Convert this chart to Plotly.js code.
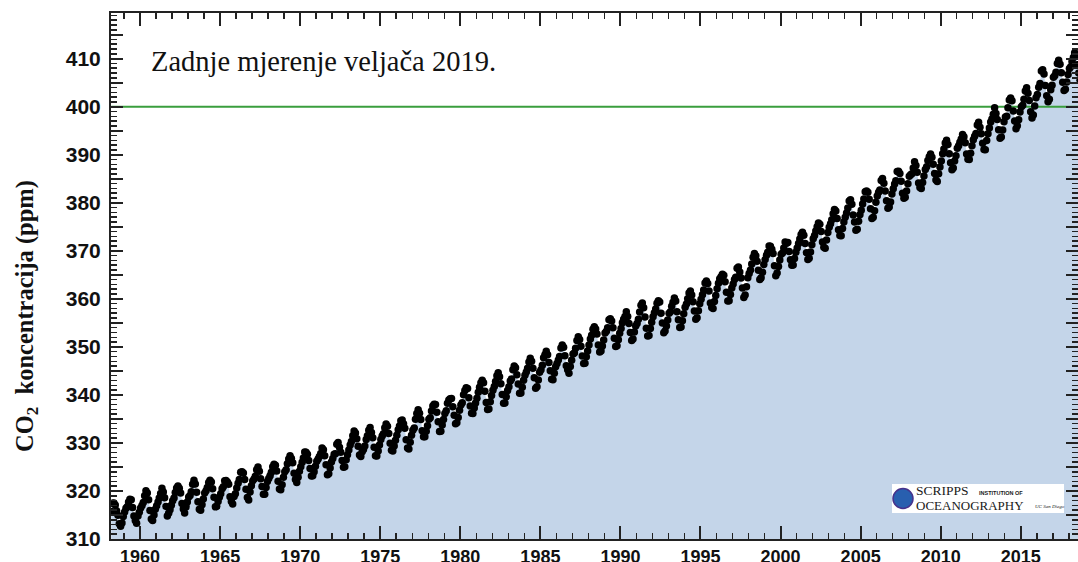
<!DOCTYPE html>
<html>
<head>
<meta charset="utf-8">
<script src="https://cdn.plot.ly/plotly-3.0.1.min.js"></script>
<style>html,body{margin:0;padding:0;background:#fff;}#chart{width:1078px;height:562px;}</style>
</head>
<body>
<div id="chart"></div>
<script>
// Monthly mean CO2 at Mauna Loa (ppm); series starts March 1958
const startYear = 1958;
const startMonth = 3;
const co2_1958_59 = [315.71,317.45,317.50,317.10,315.86,314.93,313.20,312.66,313.33,314.67,
  315.62,316.38,316.71,317.72,318.29,318.15,316.54,314.80,313.84,313.26,314.80,315.58];
const co2_1960s = [
  316.43,316.97,317.58,319.02,320.03,319.59,318.18,315.91,314.16,313.83,315.00,316.19,
  316.93,317.70,318.54,319.48,320.58,319.77,318.57,316.79,314.80,315.38,316.10,317.01,
  317.94,318.56,319.68,320.63,321.01,320.55,319.58,317.40,316.26,315.42,316.69,317.69,
  318.74,319.08,319.86,321.39,322.25,321.47,319.74,317.77,316.21,315.99,317.12,318.31,
  319.57,320.07,320.73,321.77,322.25,321.89,320.44,318.70,316.70,316.79,317.79,318.71,
  319.44,320.44,320.89,322.13,322.16,321.87,321.39,318.80,317.81,317.30,318.87,319.42,
  320.62,321.59,322.39,323.87,324.01,323.75,322.39,320.37,318.64,318.10,319.79,321.08,
  322.07,322.50,323.04,324.42,325.00,324.09,322.55,320.92,319.31,319.31,320.72,321.96,
  322.57,323.15,323.89,325.02,325.57,325.36,324.14,322.03,320.41,320.25,321.31,322.84,
  324.00,324.42,325.64,326.66,327.34,326.76,325.88,323.67,322.38,321.78,322.85,324.12];
const co2_1970s = [
  325.03,325.99,326.87,328.13,328.07,327.66,326.35,324.69,323.10,323.16,323.98,325.13,
  326.17,326.68,327.18,327.78,328.92,328.57,327.34,325.46,323.36,323.57,324.80,326.01,
  326.77,327.63,327.75,329.72,330.07,329.09,328.05,326.32,324.93,325.06,326.50,327.55,
  328.54,329.56,330.30,331.50,332.48,332.07,330.87,329.31,327.51,327.18,328.16,328.64,
  329.35,330.71,331.48,332.65,333.20,332.16,331.07,329.12,327.32,327.28,328.30,329.58,
  330.73,331.46,331.90,333.17,333.94,333.45,331.97,329.95,328.50,328.34,329.37,330.58,
  331.59,332.75,333.52,334.64,334.77,334.00,333.06,330.68,328.95,328.75,330.15,331.62,
  332.66,333.13,334.95,336.13,336.93,336.17,334.88,332.56,331.29,331.27,332.41,333.60,
  334.95,335.25,336.66,337.69,338.03,338.01,336.41,334.41,332.37,332.41,333.75,334.90,
  336.14,336.69,338.27,338.96,339.21,339.26,337.54,335.75,333.98,334.19,335.31,336.81];
const co2_1980s = [
  337.90,338.34,340.01,340.93,341.48,341.33,339.40,337.70,336.19,336.15,337.27,338.32,
  339.29,340.55,341.61,342.53,343.03,342.54,340.78,338.44,336.95,337.08,338.58,339.88,
  340.96,341.73,342.81,343.97,344.63,343.79,342.32,340.09,338.28,338.29,339.60,340.90,
  341.68,342.90,343.33,345.25,346.03,345.63,344.19,342.27,340.35,340.38,341.59,343.05,
  344.10,344.79,345.52,346.84,347.63,346.98,345.53,343.55,341.40,341.67,343.10,344.70,
  345.21,346.16,347.74,348.34,349.06,348.38,346.72,345.02,343.27,343.13,344.49,345.88,
  346.56,347.28,348.01,349.77,350.38,349.93,348.16,346.08,345.22,344.51,345.93,347.22,
  348.52,348.73,349.73,351.31,352.09,351.53,350.11,348.08,346.52,346.59,347.96,349.16,
  350.39,351.64,352.40,353.69,354.21,353.72,352.69,350.40,348.92,349.13,350.20,351.41,
  352.91,353.27,353.96,355.64,355.86,355.37,353.99,351.81,350.05,350.25,351.49,352.85];
const co2_1990s = [
  353.80,355.04,355.73,356.32,357.32,356.34,354.84,353.01,351.31,351.62,353.07,354.33,
  354.84,355.73,357.23,358.66,359.13,358.13,356.19,353.85,352.25,352.35,353.81,355.12,
  356.25,357.11,357.86,359.09,359.59,359.33,357.01,354.94,352.96,353.32,354.32,355.57,
  357.00,357.31,358.47,359.27,360.19,359.52,357.33,355.64,354.03,354.12,355.41,356.91,
  358.24,358.92,359.99,361.23,361.65,360.81,359.38,357.46,355.73,356.08,357.53,358.98,
  359.92,360.86,361.83,363.30,363.69,363.19,361.64,359.12,358.17,357.99,359.45,360.68,
  362.07,363.24,364.17,364.57,365.13,364.92,363.55,361.38,359.54,359.58,360.89,362.24,
  363.09,364.03,364.51,366.35,366.64,365.59,364.31,362.25,360.29,360.82,362.49,364.38,
  365.26,365.98,367.24,368.66,369.42,368.99,367.82,365.95,364.02,364.40,365.52,367.13,
  368.18,369.07,369.68,370.99,370.96,370.30,369.45,366.90,364.81,365.37,366.72,368.10];
const co2_2000s = [
  369.29,369.54,370.60,371.82,371.58,371.70,369.86,368.13,367.00,367.03,368.37,369.67,
  370.59,371.51,372.43,373.37,373.85,373.22,371.50,369.61,368.18,368.45,369.76,371.24,
  372.53,373.20,374.12,375.02,375.76,375.52,374.01,371.85,370.75,370.55,372.25,373.79,
  374.88,375.64,376.45,377.73,378.60,378.28,376.70,374.38,373.17,373.15,374.66,375.99,
  377.00,377.87,378.88,380.35,380.62,379.69,377.47,376.01,374.25,374.46,376.16,377.51,
  378.46,379.73,380.77,382.29,382.45,382.21,380.74,378.74,376.70,377.00,378.35,380.11,
  381.38,382.19,382.67,384.61,385.03,384.05,382.46,380.41,378.85,379.13,380.15,381.82,
  382.89,383.90,384.58,386.50,386.56,386.10,384.50,381.99,380.96,381.12,382.45,383.95,
  385.52,385.82,386.03,387.21,388.54,387.76,386.36,384.09,383.18,382.99,384.19,385.56,
  386.94,387.48,388.82,389.55,390.14,389.48,388.03,386.11,384.74,384.43,386.02,387.42];
const co2_2010s = [
  388.71,390.20,391.17,392.46,393.00,392.15,390.20,388.35,386.85,387.24,388.67,389.79,
  391.33,391.86,392.60,393.25,394.19,393.74,392.51,390.13,389.08,389.00,390.28,391.86,
  393.12,393.86,394.40,396.18,396.74,395.71,394.36,392.39,391.11,391.05,392.98,394.34,
  395.55,396.80,397.43,398.41,399.78,398.60,397.32,395.20,393.45,393.70,395.16,396.84,
  397.85,398.01,399.77,401.38,401.78,401.25,399.10,397.03,395.38,396.03,397.28,398.91,
  399.98,400.28,401.54,403.28,403.96,402.80,401.31,398.93,397.63,398.29,400.16,401.85,
  402.52,404.04,404.83,407.42,407.70,406.81,404.39,402.25,401.03,401.57,403.53,404.48,
  406.13,406.42,407.18,409.00,409.65,408.84,407.07,405.07,403.38,403.64,405.14,406.69,
  407.96,408.32,409.41,410.24,411.24,410.79,408.71,406.99,405.51,405.95,408.02,409.07];
const co2_2019 = [410.83,411.75];

const refLevel = 400;
const yTickVals = [310,315,320,325,330,335,340,345,350,355,360,365,370,375,380,385,390,395,400,405,410,415];
const yTickText = ['310',' ','320',' ','330',' ','340',' ','350',' ','360',' ','370',' ','380',' ','390',' ','400',' ','410',' '];

const noteText = 'Zadnje mjerenje veljača 2019.';
const yTitleText = 'CO<sub>2</sub>&nbsp; koncentracija (ppm)';

// ---- build
const co2 = [].concat(co2_1958_59, co2_1960s, co2_1970s, co2_1980s, co2_1990s, co2_2000s, co2_2010s, co2_2019);
const dates = co2.map((v, i) => {
  const m = startMonth - 1 + i;
  const y = startYear + Math.floor(m / 12);
  const mm = (m % 12) + 1;
  return y + '-' + (mm < 10 ? '0' + mm : mm) + '-15';
});

const PL = 111, PT = 13, PW = 967, PH = 526;
const fx = px => (px - PL) / PW;
const fy = py => (PT + PH - py) / PH;

const serif = 'Liberation Serif, Times New Roman, serif';
const sans = 'Liberation Sans, Arial, Helvetica, sans-serif';

const traces = [
  {x: dates, y: co2, type: 'scatter', mode: 'lines', line: {width: 0, color: 'rgba(0,0,0,0)'},
   fill: 'tozeroy', fillcolor: 'rgb(196,213,233)', hoverinfo: 'skip'},
  {x: [dates[0], dates[dates.length - 1]], y: [refLevel, refLevel], type: 'scatter', mode: 'lines',
   line: {color: 'rgb(58,158,62)', width: 2}, hoverinfo: 'skip'},
  {x: dates, y: co2, type: 'scatter', mode: 'markers',
   marker: {color: '#000', size: 7.5, line: {width: 0}}}
];

const layout = {
  width: 1078, height: 562,
  margin: {l: PL, r: 0, t: PT, b: 562 - PT - PH, pad: 0},
  paper_bgcolor: '#fff', plot_bgcolor: '#fff',
  showlegend: false,
  xaxis: {
    type: 'date', range: ['1958-03-10', '2018-07-30'],
    tick0: '1960-01-01', dtick: 'M60', tickformat: '%Y',
    ticks: 'inside', ticklen: 13, tickwidth: 2, tickcolor: '#222',
    showline: true, linecolor: '#222', linewidth: 2, mirror: 'ticks',
    showgrid: false, zeroline: false,
    minor: {dtick: 'M12', tick0: '1960-01-01', ticks: 'inside', ticklen: 6, tickwidth: 1.5, tickcolor: '#222', showgrid: false},
    tickfont: {family: sans, size: 18, weight: 'bold', color: '#111'},
    ticklabelstandoff: 0
  },
  yaxis: {
    range: [310, 419.5],
    tickmode: 'array', tickvals: yTickVals, ticktext: yTickText,
    ticks: 'inside', ticklen: 12, tickwidth: 2, tickcolor: '#222',
    showline: true, linecolor: '#222', linewidth: 2, mirror: 'ticks',
    showgrid: false, zeroline: false,
    minor: {dtick: 1, tick0: 310, ticks: 'inside', ticklen: 6, tickwidth: 1.5, tickcolor: '#222', showgrid: false},
    tickfont: {family: sans, size: 21, weight: 'bold', color: '#111'},
    ticklabelstandoff: 4
  },
  shapes: [
    {type: 'rect', xref: 'paper', yref: 'paper', x0: fx(892), x1: fx(1064), y0: fy(513), y1: fy(484),
     fillcolor: '#fff', line: {width: 0}, layer: 'above'},
    {type: 'circle', xref: 'paper', yref: 'paper', x0: fx(893), x1: fx(913), y0: fy(508.5), y1: fy(488.5),
     fillcolor: 'rgb(40,95,175)', line: {color: 'rgb(70,50,140)', width: 1.5}, layer: 'above'}
  ],
  annotations: [
    {xref: 'paper', yref: 'paper', x: fx(149), y: fy(61), xanchor: 'left', yanchor: 'middle', showarrow: false,
     text: noteText, font: {family: serif, size: 28.5, color: '#111'}},
    {xref: 'paper', yref: 'paper', x: fx(26), y: fy(316), xanchor: 'center', yanchor: 'middle', showarrow: false,
     textangle: -90, text: yTitleText, font: {family: serif, size: 24.5, weight: 'bold', color: '#111'}},
    {xref: 'paper', yref: 'paper', x: fx(915), y: fy(490.5), xanchor: 'left', yanchor: 'middle', showarrow: false,
     borderpad: 0, text: 'SCRIPPS', font: {family: serif, size: 13.5, color: '#1a1a1a'}},
    {xref: 'paper', yref: 'paper', x: fx(978), y: fy(493), xanchor: 'left', yanchor: 'middle', showarrow: false,
     borderpad: 0, text: 'INSTITUTION OF', font: {family: sans, size: 5.5, weight: 'bold', color: '#1a1a1a'}},
    {xref: 'paper', yref: 'paper', x: fx(915), y: fy(505), xanchor: 'left', yanchor: 'middle', showarrow: false,
     borderpad: 0, text: 'OCEANOGRAPHY', font: {family: serif, size: 13, color: '#1a1a1a'}},
    {xref: 'paper', yref: 'paper', x: fx(1034), y: fy(506.5), xanchor: 'left', yanchor: 'middle', showarrow: false,
     borderpad: 0, text: '<i>UC San Diego</i>', font: {family: serif, size: 5, color: '#1a1a1a'}}
  ]
};

Plotly.newPlot('chart', traces, layout, {displayModeBar: false, staticPlot: true});
</script>
</body>
</html>
